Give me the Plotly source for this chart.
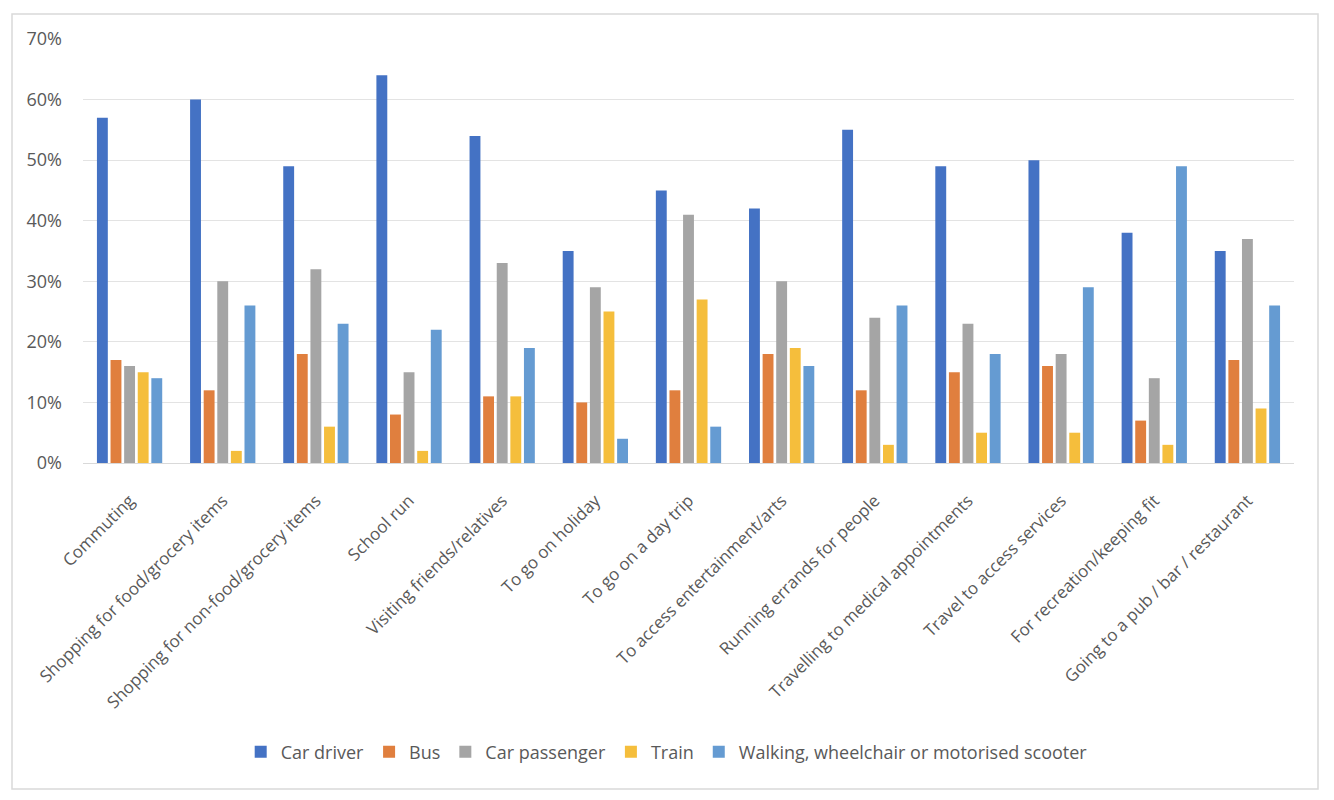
import plotly.graph_objects as go

categories = [
    "Commuting", "Shopping for food/grocery items", "Shopping for non-food/grocery items",
    "School run", "Visiting friends/relatives", "To go on holiday", "To go on a day trip",
    "To access entertainment/arts", "Running errands for people",
    "Travelling to medical appointments", "Travel to access services",
    "For recreation/keeping fit", "Going to a pub / bar / restaurant",
]
car_driver = [57, 60, 49, 64, 54, 35, 45, 42, 55, 49, 50, 38, 35]
bus = [17, 12, 18, 8, 11, 10, 12, 18, 12, 15, 16, 7, 17]
car_passenger = [16, 30, 32, 15, 33, 29, 41, 30, 24, 23, 18, 14, 37]
train = [15, 2, 6, 2, 11, 25, 27, 19, 3, 5, 5, 3, 9]
walking = [14, 26, 23, 22, 19, 4, 6, 16, 26, 18, 29, 49, 26]

series_names = ["Car driver", "Bus", "Car passenger", "Train",
                "Walking, wheelchair or motorised scooter"]
series_values = [car_driver, bus, car_passenger, train, walking]
colors = ["#4472C4", "#E07F3E", "#A5A5A5", "#F5BE3C", "#659BD2"]

fig = go.Figure()
for name, vals, col in zip(series_names, series_values, colors):
    fig.add_trace(go.Bar(
        name=name, x=categories, y=[v / 100 for v in vals],
        marker=dict(color=col, line=dict(width=0)),
    ))

# page body has an 8px margin: figure origin is at (8, 8) in the window
W, H = 1318, 784
L, T = 75, 31
R = W - 1286
B = H - 455
PW, PH = W - L - R, H - T - B

font_main = "Open Sans, Noto Sans, sans-serif"
fig.update_layout(
    width=W, height=H,
    barmode="group", bargap=0.27, bargroupgap=0.2,
    paper_bgcolor="white", plot_bgcolor="white",
    margin=dict(l=L, r=R, t=T, b=B, autoexpand=False),
    font=dict(family=font_main, color="#595959", size=15),
    legend=dict(orientation="h", x=0.482, xanchor="center",
                y=(455 - 744) / PH, yanchor="middle",
                font=dict(family=font_main, size=18, color="#595959"),
                traceorder="normal"),
    xaxis=dict(tickangle=-45, showgrid=False, showline=True, linecolor="#D9D9D9",
               linewidth=1, ticks="", ticklabelstandoff=20,
               tickfont=dict(size=17, color="#595959")),
    yaxis=dict(range=[0, 0.70], dtick=0.10, tickformat=".0%", showgrid=True,
               gridcolor="#E3E3E3", gridwidth=1, zeroline=False, ticks="",
               showline=False, tickfont=dict(size=18, color="#595959"),
               ticklabelstandoff=20),
    shapes=[dict(type="rect", xref="paper", yref="paper",
                 x0=(4 - L) / PW, x1=(1310 - L) / PW,
                 y0=(455 - 781) / PH, y1=(455 - 6) / PH,
                 line=dict(color="#D9D9D9", width=1.5), layer="below")],
)

fig.write_html("out.html")
